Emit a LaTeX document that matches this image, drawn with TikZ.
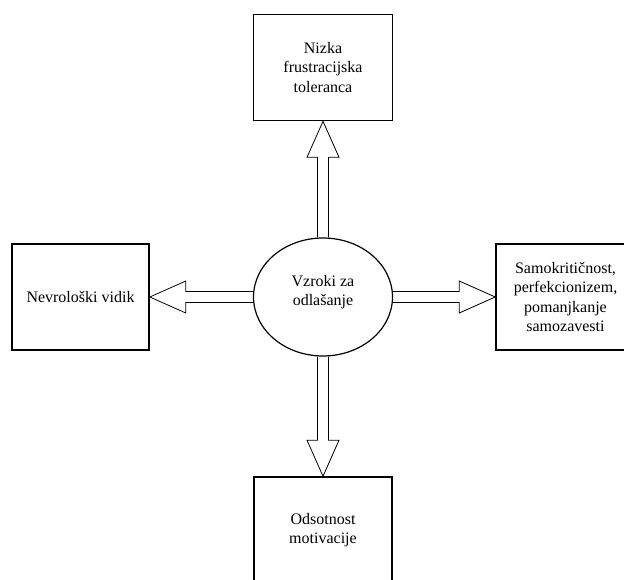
\documentclass[tikz,border=0pt]{standalone}
\usepackage{fontspec}
\setmainfont{Liberation Serif}
\usetikzlibrary{calc,shapes.geometric}

\tikzset{
  box/.style={draw, line width=1.6pt, minimum width=139pt, minimum height=106pt, align=center, inner sep=2pt},
  cause/.style={draw, ellipse, line width=1.2pt, minimum width=139pt, minimum height=118pt, align=center, inner sep=0pt, text depth=13pt},
  hollow/.style={draw, line width=0.8pt, line join=miter}
}
% hollow block arrow from #1 to the tip #2
\newcommand{\blockarrow}[2]{%
  \coordinate (hb) at ($(#2)!36pt!(#1)$);
  \draw[hollow] ($(#1)!5.5pt!90:(#2)$) -- ($(hb)!5.5pt!90:(#2)$) -- ($(hb)!16pt!90:(#2)$) -- (#2)
    -- ($(hb)!16pt!-90:(#2)$) -- ($(hb)!5.5pt!-90:(#2)$) -- ($(#1)!5.5pt!-90:(#2)$);
}

\begin{document}
\begin{tikzpicture}[x=1pt, y=-1pt, font=\fontsize{16}{19.5}\selectfont]
	\useasboundingbox (0,0) rectangle (624,580);
	\clip (0,0) rectangle (624,580);
	\node[cause] (cause) at (323,297) {Vzroki za\\odlašanje};
	\node[box] (tolerance) at (323,67.5) {Nizka\\frustracijska\\toleranca};
	\node[box, minimum width=137pt] (neuro) at (80.5,297) {Nevrološki vidik};
	\node[box] (critic) at (565.5,297) {Samokritičnost,\\perfekcionizem,\\pomanjkanje\\samozavesti};
	\node[box, minimum width=138pt] (motiv) at (323,530) {Odsotnost\\motivacije};
	\blockarrow{cause.north}{tolerance.south}
	\blockarrow{cause.west}{neuro.east}
	\blockarrow{cause.east}{critic.west}
	\blockarrow{cause.south}{motiv.north}
\end{tikzpicture}
\end{document}
